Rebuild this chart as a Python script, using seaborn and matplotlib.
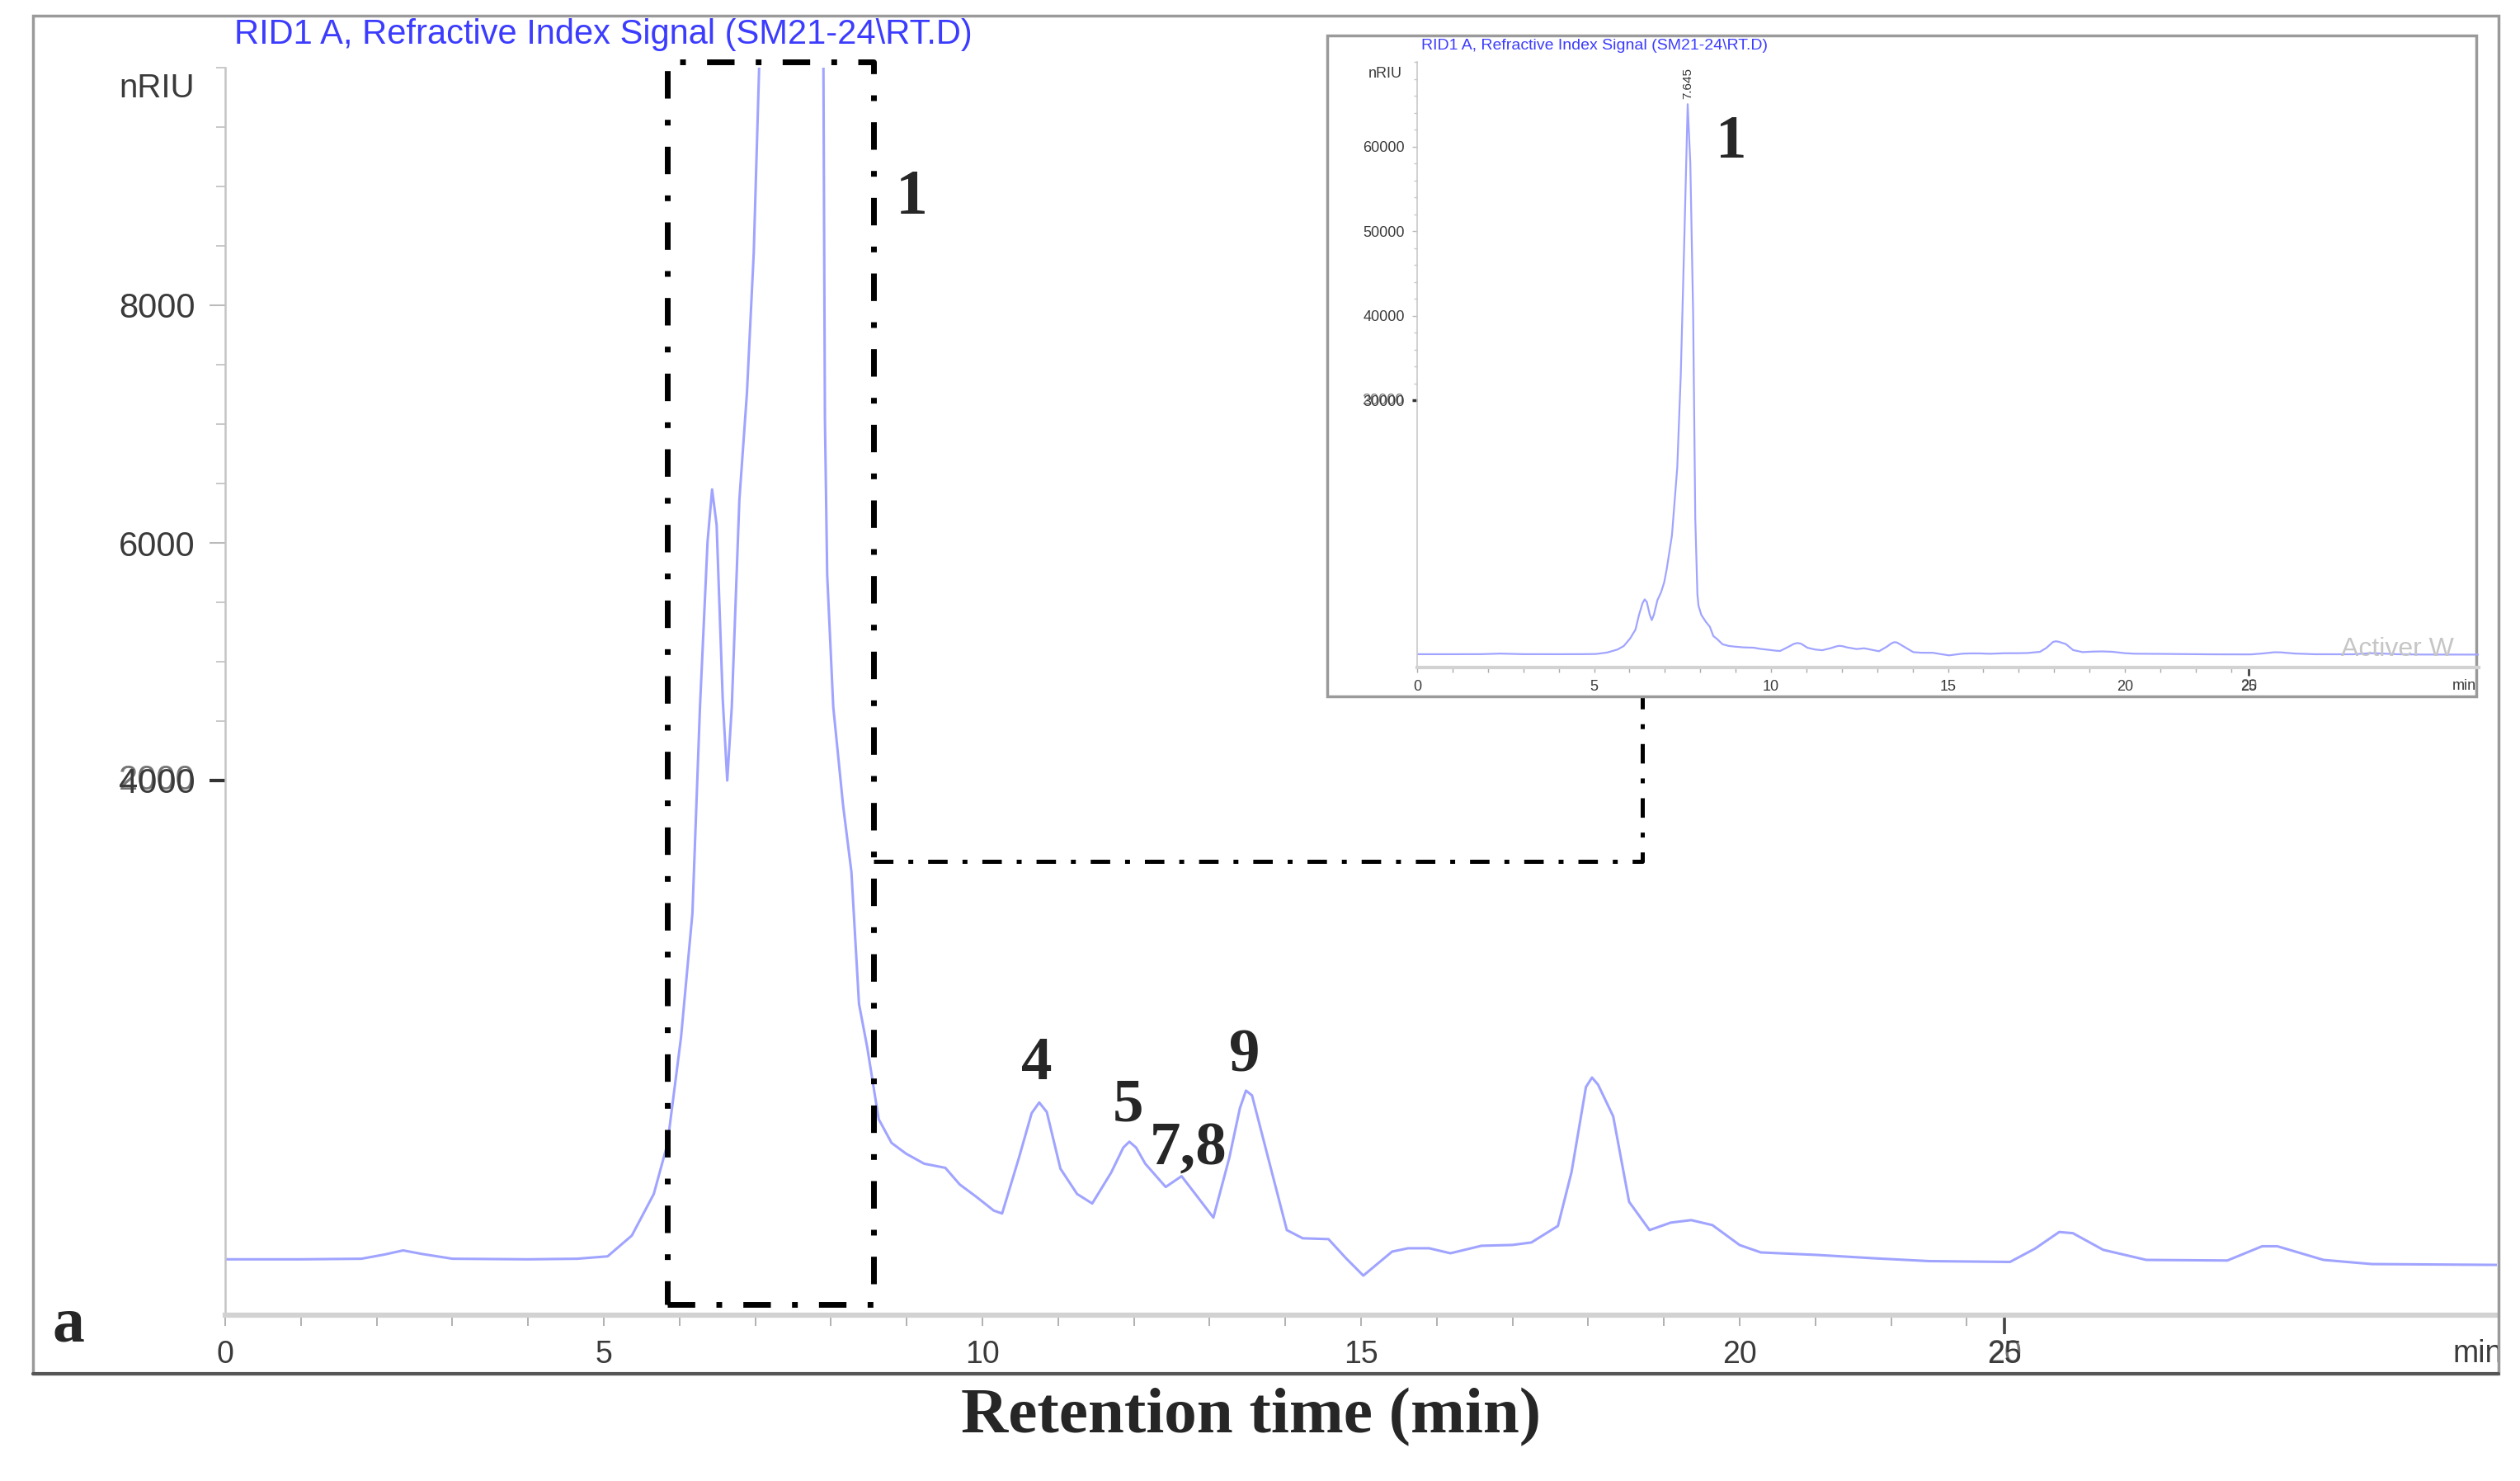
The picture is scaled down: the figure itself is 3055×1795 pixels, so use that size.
import numpy as np
import pandas as pd
import seaborn as sns
import matplotlib.pyplot as plt
from matplotlib.patches import Rectangle
from matplotlib.lines import Line2D

# chromatogram: retention time (min) / RI signal (nRIU)
rt = [0.0, 1.0, 1.8, 2.1, 2.35, 2.6, 3.0, 4.0, 4.65, 5.05, 5.37, 5.66, 5.84,
      6.02, 6.17, 6.27, 6.37, 6.43, 6.49, 6.57, 6.63, 6.69, 6.79, 6.89, 6.98,
      7.05, 7.2, 7.35, 7.45, 7.55, 7.645, 7.72, 7.8, 7.86, 7.92, 7.95, 8.03,
      8.16, 8.27, 8.37, 8.48, 8.63, 8.8, 8.99, 9.23, 9.51, 9.7, 9.92, 10.15, 10.26,
      10.48, 10.65, 10.75, 10.85, 11.03, 11.25, 11.45, 11.7, 11.86, 11.94, 12.03,
      12.15, 12.42, 12.63, 12.84, 13.05, 13.26, 13.4, 13.48, 13.56, 13.81,
      14.02, 14.23, 14.57, 14.8, 15.03, 15.41, 15.62, 15.9, 16.18, 16.59, 17.0,
      17.25, 17.6, 17.78, 17.97, 18.05, 18.13, 18.33, 18.54, 18.81, 19.09,
      19.36, 19.64, 20.0, 20.28, 21.02, 21.77, 22.5, 23.57, 23.9, 24.22, 24.4,
      24.8, 25.37, 26.44, 26.9, 27.1, 27.71, 28.35, 30.0]
signal = [-30, -30, -25, 10, 45, 15, -25, -30, -25, -5, 170, 520, 940,
          1840, 2880, 4620, 6010, 6450, 6150, 4690, 4000, 4620, 6360, 7260, 8440,
          9970, 14000, 22000, 33000, 49000, 65000, 58000, 40000, 16000, 7050, 5730, 4620,
          3790, 3230, 2120, 1750, 1150, 950, 860, 775, 740, 600, 496, 380, 356,
          820, 1200, 1290, 1210, 733, 520, 440, 700, 910, 960, 910,
          775, 579, 670, 496, 321, 824, 1242, 1390, 1350, 733,
          216, 147, 140, -20, -167, 35, 63, 63, 21, 84, 91,
          112, 251, 705, 1420, 1500, 1440, 1173, 454, 216, 279,
          300, 258, 90, 28, 7, -21, -45, -52, 60, 200, 190,
          50, -35, -40, 80, 80, -35, -70, -77]

peak_labels = ["4", "5", "7,8", "9"]
peak_label_rt = [10.72, 11.92, 12.72, 13.46]
peak_label_y = [1610, 1260, 900, 1680]

main_yticks = [4000, 6000, 8000]
main_yticklabels = ["4000", "6000", "8000"]
inset_yticks = [30000, 40000, 50000, 60000]
inset_yticklabels = ["30000", "40000", "50000", "60000"]
xticks = [0, 5, 10, 15, 20, 23.5]
xticklabels = ["0", "5", "10", "15", "20", "25"]

title = r"RID1 A, Refractive Index Signal (SM21-24\RT.D)"

# dash-dot box around peak 1 and its link to the inset
box_rt = (5.84, 8.56)
box_y = (-410, 10050)
link_y = 3320
link_rt = 18.71
link_top = 4705

LINE = "#a0a4ff"
BLUE = "#3c3cff"
TXT = "#3a3a3a"
SERIF = ["Liberation Serif", "DejaVu Serif"]

sns.set_style("white")
plt.rcParams["font.family"] = ["Liberation Sans", "DejaVu Sans"]
plt.rcParams["lines.scale_dashes"] = False

W, H = 3055, 1795


def fx(px):
    return px / W


def fy(py):
    return 1 - py / H


df = pd.DataFrame({"rt": rt, "signal": signal})

fig = plt.figure(figsize=(W / 100, H / 100), dpi=100)
fig.patch.set_facecolor("white")

# ---- main chromatogram
ax = fig.add_axes([fx(273), fy(1594), (3027 - 273) / W, (1594 - 82) / H])
sns.lineplot(data=df, x="rt", y="signal", ax=ax, color=LINE, linewidth=2.2, estimator=None)
ax.set_xlim(0, 30)
ax.set_ylim(-500, 10000)
ax.set_xlabel("")
ax.set_ylabel("")
for s in ["top", "right"]:
    ax.spines[s].set_visible(False)
ax.spines["left"].set_color("#c4c4c4")
ax.spines["left"].set_linewidth(1.8)
ax.spines["bottom"].set_color("#d2d2d2")
ax.spines["bottom"].set_linewidth(4.5)

ax.set_yticks(main_yticks)
ax.set_yticklabels(main_yticklabels)
ax.set_yticks(np.arange(4000, 10001, 500), minor=True)
ax.set_xticks(xticks)
ax.set_xticklabels(xticklabels)
ax.set_xticks(np.arange(0, 24, 1), minor=True)
ax.tick_params(which="both", left=True, bottom=True, direction="out")
ax.tick_params(axis="y", which="major", length=14, width=1.5, color="#bbbbbb", pad=12,
               labelsize=30, labelcolor=TXT)
ax.tick_params(axis="y", which="minor", length=8, width=1.3, color="#c4c4c4")
ax.tick_params(axis="x", which="major", length=9.4, width=1.3, color="#aaaaaa", pad=12,
               labelsize=27, labelcolor=TXT)
ax.tick_params(axis="x", which="minor", length=9.4, width=1.3, color="#aaaaaa")
t0 = ax.yaxis.get_major_ticks()[0]
t0.tick1line.set_markeredgecolor("#333333")
t0.tick1line.set_markeredgewidth(3)
t5 = ax.xaxis.get_major_ticks()[5]
t5.tick1line.set_markeredgecolor("#444444")
t5.tick1line.set_markeredgewidth(2.6)
t5.tick1line.set_markersize(16.5)

# overlapped labels as in the picture
ax.text(-0.0131, 4000, "2000", transform=ax.get_yaxis_transform(), ha="right", va="center",
        fontsize=30, color=TXT, alpha=0.7)
ax.text(23.5, -0.031, "20", transform=ax.get_xaxis_transform(), ha="center", va="center",
        fontsize=27, color=TXT, alpha=0.7)
ax.text(29.75, -0.031, "min", transform=ax.get_xaxis_transform(), ha="center", va="center",
        fontsize=27, color=TXT)

# zoom box + link line
box_style = dict(color="black", lw=5, linestyle=(0, (24, 18.5, 5, 18.5)), clip_on=False, zorder=4)
ax.plot([box_rt[0], box_rt[1], box_rt[1], box_rt[0], box_rt[0]],
        [box_y[0], box_y[0], box_y[1], box_y[1], box_y[0]], **box_style)
ax.plot([box_rt[1], link_rt, link_rt], [link_y, link_y, link_top], color="black", lw=3.6,
        linestyle=(0, (17, 13, 4.3, 13)), clip_on=False, zorder=4)

ax.text(9.06, 8900, "1", family=SERIF, weight="bold", fontsize=56, ha="center", va="center")
for lab, x, y in zip(peak_labels, peak_label_rt, peak_label_y):
    ax.text(x, y, lab, family=SERIF, weight="bold", fontsize=54, ha="center", va="center")

# ---- inset (full scale)
fig.add_artist(Rectangle((fx(1609), fy(844)), (3002 - 1609) / W, (844 - 43) / H,
                         transform=fig.transFigure, facecolor="white", edgecolor="#9a9a9a",
                         lw=2.5, zorder=1))
axi = fig.add_axes([fx(1718), fy(809), (3005 - 1718) / W, (809 - 75) / H])
axi.set_zorder(2)
axi.patch.set_visible(False)
sns.lineplot(data=df, x="rt", y="signal", ax=axi, color=LINE, linewidth=1.6, estimator=None)
axi.set_xlim(0, 30)
axi.set_ylim(-1600, 70000)
axi.set_xlabel("")
axi.set_ylabel("")
for s in ["top", "right"]:
    axi.spines[s].set_visible(False)
axi.spines["left"].set_color("#c8c8c8")
axi.spines["left"].set_linewidth(1.2)
axi.spines["bottom"].set_color("#d2d2d2")
axi.spines["bottom"].set_linewidth(3)
axi.set_yticks(inset_yticks)
axi.set_yticklabels(inset_yticklabels)
axi.set_yticks(np.arange(30000, 70001, 2000), minor=True)
axi.set_xticks(xticks)
axi.set_xticklabels(xticklabels)
axi.set_xticks(np.arange(0, 24, 1), minor=True)
axi.tick_params(which="both", left=True, bottom=True, direction="out")
axi.tick_params(axis="y", which="major", length=4, width=1, color="#bbbbbb", pad=7,
                labelsize=13, labelcolor=TXT)
axi.tick_params(axis="y", which="minor", length=3, width=1, color="#c8c8c8")
axi.tick_params(axis="x", which="major", length=4, width=1, color="#aaaaaa", pad=7,
                labelsize=13, labelcolor=TXT)
axi.tick_params(axis="x", which="minor", length=4, width=1, color="#aaaaaa")
i0 = axi.yaxis.get_major_ticks()[0]
i0.tick1line.set_markeredgecolor("#333333")
i0.tick1line.set_markeredgewidth(2.5)
i5 = axi.xaxis.get_major_ticks()[5]
i5.tick1line.set_markeredgecolor("#444444")
i5.tick1line.set_markeredgewidth(2)
i5.tick1line.set_markersize(7)
axi.text(-0.0124, 30000, "20000", transform=axi.get_yaxis_transform(), ha="right", va="center",
         fontsize=13, color=TXT, alpha=0.7)
axi.text(23.5, -0.031, "20", transform=axi.get_xaxis_transform(), ha="center", va="center",
         fontsize=13, color=TXT, alpha=0.7)
axi.text(29.6, -0.031, "min", transform=axi.get_xaxis_transform(), ha="center", va="center",
         fontsize=13, color=TXT)
axi.text(7.645, 65600, "7.645", rotation=90, ha="center", va="bottom", fontsize=11, color="#333333")
axi.text(8.88, 60400, "1", family=SERIF, weight="bold", fontsize=54, ha="center", va="center")
axi.text(26.1, 0.03, "Activer W", transform=axi.get_xaxis_transform(), fontsize=23,
         color="#c6c6c6", ha="left", va="center", clip_on=True)
axi.text(26.1, -0.031, "Accédez", transform=axi.get_xaxis_transform(), fontsize=16,
         color="#d0d0d0", ha="left", va="center", clip_on=True)

# ---- header / frame / labels
fig.text(fx(284), fy(42), title, color=BLUE, fontsize=30, ha="left", va="center")
fig.text(fx(236), fy(107), "nRIU", color=TXT, fontsize=29, ha="right", va="center")
fig.text(fx(1723), fy(55), title, color=BLUE, fontsize=14, ha="left", va="center")
fig.text(fx(1700), fy(89), "nRIU", color=TXT, fontsize=13, ha="right", va="center")
fig.text(fx(83), fy(1607), "a", family=SERIF, weight="bold", fontsize=56, ha="center", va="center")
fig.text(fx(1517), fy(1718), "Retention time (min)", family=SERIF, weight="bold", fontsize=57,
         ha="center", va="center")

fig.add_artist(Rectangle((fx(40), fy(1665)), (3029 - 40) / W, (1665 - 19) / H,
                         transform=fig.transFigure, fill=False, edgecolor="#9a9a9a", lw=2.5, zorder=6))
fig.add_artist(Line2D([fx(40), fx(3029)], [fy(1665), fy(1665)], transform=fig.transFigure,
                      color="#555555", lw=3, zorder=7))

fig.savefig("out.png", dpi=100, facecolor="white")
